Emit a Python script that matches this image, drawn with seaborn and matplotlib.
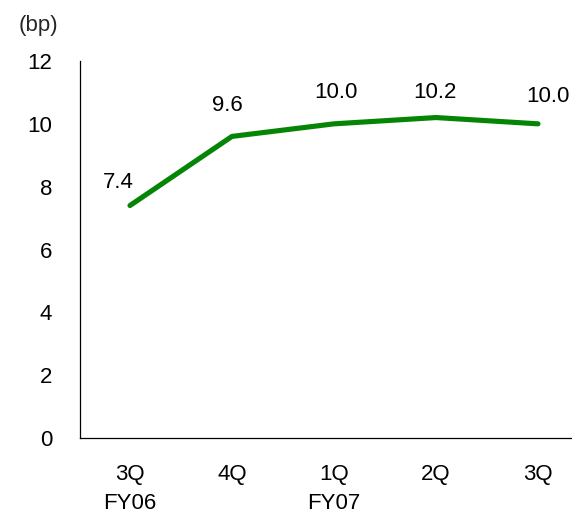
import matplotlib
matplotlib.use("Agg")
import matplotlib.pyplot as plt
import seaborn as sns
import pandas as pd

quarters = ["3Q\nFY06", "4Q", "1Q\nFY07", "2Q", "3Q"]
values = [7.4, 9.6, 10.0, 10.2, 10.0]
value_labels = ["7.4", "9.6", "10.0", "10.2", "10.0"]
y_ticks = [0, 2, 4, 6, 8, 10, 12]

# label offsets from each point, in pixels (dx, dy)
label_offsets = [(-12, 23), (-5, 31), (2, 31), (-1, 25), (10, 27)]

sns.set_theme(style="white")
plt.rcParams["font.family"] = ["Liberation Sans", "DejaVu Sans"]

df = pd.DataFrame({"pos": range(len(quarters)), "value": values})

DPI = 100
FS = 16
fig = plt.figure(figsize=(5.72, 5.19), dpi=DPI)
ax = fig.add_axes([80 / 572, 1 - 438 / 519, 1 - 80 / 572, (438 - 61) / 519])

sns.lineplot(data=df, x="pos", y="value", ax=ax, color="#058505", linewidth=3.7,
             solid_capstyle="round")

px = 72 / DPI
for x, v, t, (dx, dy) in zip(df["pos"], values, value_labels, label_offsets):
    ax.annotate(t, (x, v), xytext=(dx * px, dy * px), textcoords="offset points",
                ha="center", va="center", fontsize=FS, color="black")

ax.set_xlim(-0.49, (572 - 130) / 102)
ax.set_ylim(0, 12)
ax.set_yticks(y_ticks)
ax.set_xticks(range(len(quarters)))
ax.set_xticklabels(quarters, linespacing=1.45)
ax.tick_params(axis="both", labelsize=FS, colors="black", length=0)
ax.tick_params(axis="x", pad=19)
ax.tick_params(axis="y", pad=20)
ax.set_xlabel("")
ax.set_ylabel("")
for s in ["top", "right"]:
    ax.spines[s].set_visible(False)
for s in ["left", "bottom"]:
    ax.spines[s].set_color("black")
    ax.spines[s].set_linewidth(0.9)

fig.text(38 / 572, 1 - 25 / 519, "(bp)", ha="center", va="center", fontsize=FS)

fig.savefig("out.png", dpi=DPI)
